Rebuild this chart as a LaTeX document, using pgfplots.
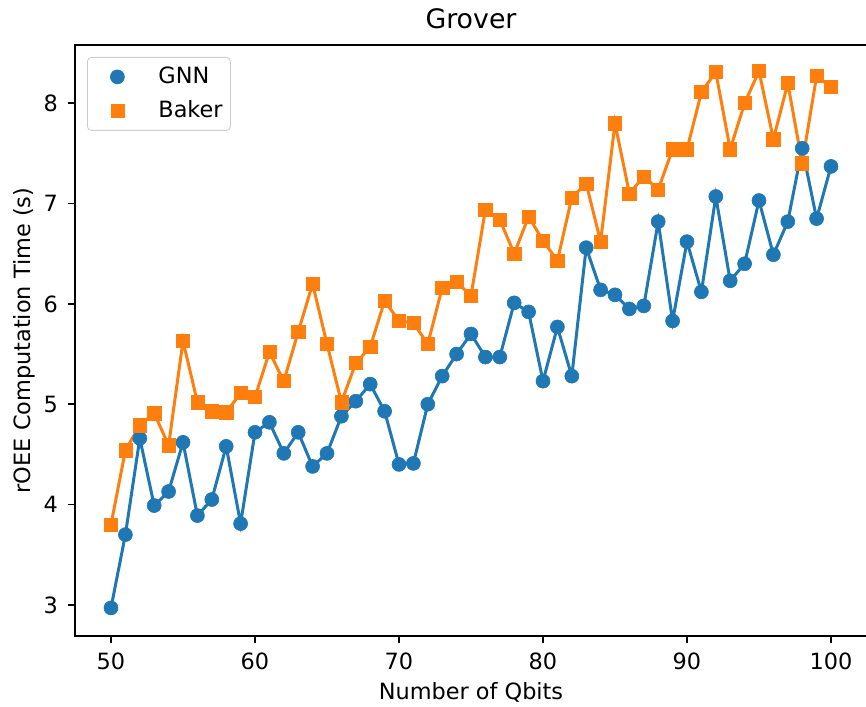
\documentclass[border=0pt]{standalone}
\usepackage{fontspec}
\setmainfont{DejaVu Sans}
\usepackage{pgfplots}
\pgfplotsset{compat=1.18}
\definecolor{mblue}{HTML}{1F77B4}
\definecolor{morange}{HTML}{FF7F0E}

\pgfplotstableread{
q gnn baker
50 2.97 3.80
51 3.70 4.54
52 4.66 4.79
53 3.99 4.91
54 4.13 4.59
55 4.62 5.63
56 3.89 5.02
57 4.05 4.93
58 4.58 4.92
59 3.81 5.11
60 4.72 5.07
61 4.82 5.52
62 4.51 5.23
63 4.72 5.72
64 4.38 6.20
65 4.51 5.60
66 4.88 5.02
67 5.03 5.41
68 5.20 5.57
69 4.93 6.03
70 4.40 5.83
71 4.41 5.81
72 5.00 5.60
73 5.28 6.16
74 5.50 6.22
75 5.70 6.08
76 5.47 6.94
77 5.47 6.84
78 6.01 6.50
79 5.92 6.87
80 5.23 6.63
81 5.77 6.43
82 5.28 7.06
83 6.56 7.20
84 6.14 6.62
85 6.09 7.80
86 5.95 7.10
87 5.98 7.27
88 6.82 7.14
89 5.83 7.54
90 6.62 7.54
91 6.12 8.11
92 7.07 8.31
93 6.23 7.54
94 6.40 8.00
95 7.03 8.32
96 6.49 7.64
97 6.82 8.20
98 7.55 7.40
99 6.85 8.27
100 7.37 8.16
}\grover

\begin{document}
\begin{tikzpicture}
\begin{axis}[
  at={(0,0)}, anchor=south west,
  scale only axis, width=396pt, height=295.5pt,
  xmin=47.5, xmax=102.5, ymin=2.69, ymax=8.58,
  xtick={50,60,...,100}, ytick={3,4,...,8},
  xtick pos=bottom, ytick pos=left,
  tick align=outside, major tick length=3.5pt,
  tick style={black, line width=0.8pt},
  axis line style={line width=0.8pt},
  /pgf/number format/assume math mode=true,
  tick label style={font=\fontsize{11.2}{13}\selectfont},
  xticklabel shift=1.5pt, yticklabel shift=1.5pt,
  label style={font=\fontsize{11.2}{13}\selectfont},
  xlabel style={at={(axis description cs:0.5,0)}, anchor=base, yshift=-31.5pt},
  ylabel style={at={(axis description cs:0,0.5)}, anchor=base, yshift=22.5pt},
  title style={font=\fontsize{13.4}{16}\selectfont, at={(axis description cs:0.5,1)}, anchor=base, yshift=2pt},
  title={Grover},
  xlabel={Number of Qbits},
  ylabel={rOEE Computation Time (s)},
  legend cell align=left,
  legend style={font=\fontsize{11.2}{13}\selectfont, draw=black!20, rounded corners=2pt,
    at={(0.01515,0.9797)}, anchor=north west, inner xsep=0pt, inner ysep=1.25pt,
    nodes={inner sep=0pt, text width=36pt}},
  legend image code/.code={\path[draw=none,fill=none] (0pt,-8.5pt) rectangle (35.5pt,8.5pt);
    \draw[#1] plot coordinates {(15pt,0pt)};},
]
\addplot[mblue, line width=1.5pt, forget plot] table[x=q, y=gnn] {\grover};
\addplot[morange, line width=1.5pt, forget plot] table[x=q, y=baker] {\grover};
\addplot[only marks, mark=*, mark size=3.5pt, mblue, mark options={line width=0.3pt}] table[x=q, y=gnn] {\grover};
\addlegendentry{GNN}
\addplot[only marks, mark=square*, mark size=3.3pt, morange, mark options={line width=0.3pt}] table[x=q, y=baker] {\grover};
\addlegendentry{Baker}
\end{axis}
\pgfresetboundingbox
\path[use as bounding box] (-37.5pt,-35pt) rectangle (395.5pt,318pt);
\end{tikzpicture}
\end{document}
